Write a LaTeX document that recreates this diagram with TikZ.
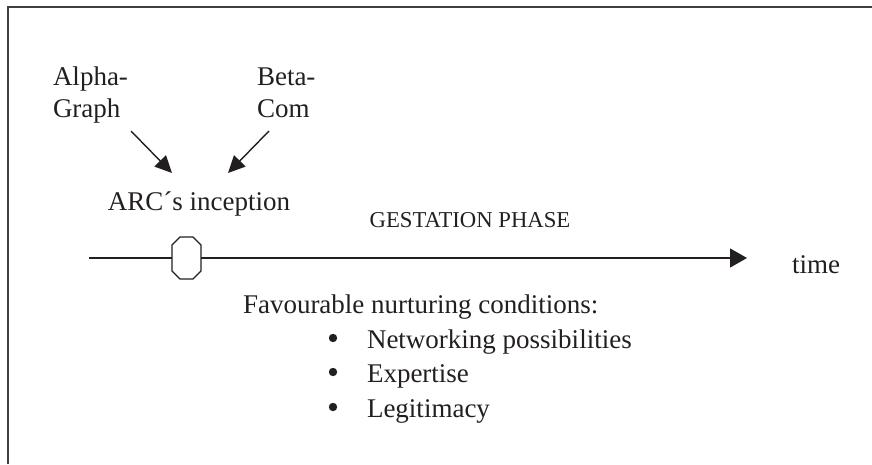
\documentclass[tikz,border=0pt]{standalone}
\usepackage{fontspec}
\setmainfont{Liberation Serif}
\usetikzlibrary{arrows.meta,shapes.geometric}
\definecolor{ink}{HTML}{231F20}
\definecolor{framegray}{HTML}{404040}
\tikzset{
  lbl/.style={inner sep=0pt, outer sep=0pt, text=ink, font=\fontsize{27}{32}\selectfont},
  small/.style={inner sep=0pt, outer sep=0pt, text=ink, font=\fontsize{22.7}{27}\selectfont},
  feed/.style={draw=ink, line width=1.4pt, -{Triangle[length=17pt,width=16pt]}},
  axis/.style={draw=ink, line width=1.3pt, -{Triangle[length=17pt,width=19pt]}},
  marker/.style={draw=ink, fill=white, line width=1.2pt},
}
\begin{document}
\begin{tikzpicture}[x=1pt,y=-1pt]
\useasboundingbox (0,0) rectangle (872,464);
% open frame (left and top edges)
\draw[framegray, line width=2pt] (7.5,464) -- (7.5,6.5) -- (872,6.5);

% sources
\node[lbl, align=left, anchor=base west] (alpha) at (53,117) {Alpha-\\Graph};
\node[lbl, align=left, anchor=base west] (beta) at (257,117) {Beta-\\Com};
\node[lbl, anchor=base] (arc) at (199,210) {ARC\symbol{"00B4}s inception};

\coordinate (alphaout) at (131,131);
\coordinate (alphain) at (172,173);
\coordinate (betaout) at (269,131);
\coordinate (betain) at (228,173);
\draw[feed] (alphaout) -- (alphain);
\draw[feed] (betaout) -- (betain);

% time axis
\coordinate (start) at (89,258);
\coordinate (tip) at (747,258);
\draw[axis] (start) -- (tip);
\node[lbl, anchor=base west] (time) at (792,273) {time};
\node[small, anchor=base] (phase) at (470,227) {GESTATION PHASE};

% inception marker on the axis
\draw[marker] (180,237) -- (193,237) -- (201,245) -- (201,271) -- (193,279)
  -- (180,279) -- (172,271) -- (172,245) -- cycle;

% conditions
\node[lbl, anchor=base west] (cond) at (243,313) {Favourable nurturing conditions:};
\foreach \y/\t/\n in {348/Networking possibilities/c1, 382/Expertise/c2, 417/Legitimacy/c3}{
  \fill[ink] (333,\y-10) circle (4.2pt);
  \node[lbl, anchor=base west] (\n) at (367,\y) {\t};
}
\end{tikzpicture}
\end{document}
